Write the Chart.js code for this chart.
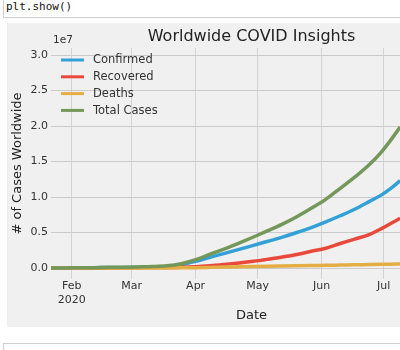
<!DOCTYPE html>
<html><head><meta charset="utf-8">
<script src="https://cdn.jsdelivr.net/npm/chart.js@4.4.1/dist/chart.umd.min.js"></script>
<style>
html,body{margin:0;padding:0;width:400px;height:350px;overflow:hidden;background:#fff;}
#wrap{position:relative;width:400px;height:350px;overflow:hidden;}
#cell1{position:absolute;left:3px;top:-10px;width:430px;height:26px;border:1px solid #cfcfcf;background:#fff;}
#code{position:absolute;left:6px;top:0px;font-family:"DejaVu Sans Mono",monospace;font-size:11px;color:#111;line-height:13px;white-space:pre;}
#fig{position:absolute;left:7px;top:23px;width:400px;height:304px;background:#f0f0f0;}
#cv{position:absolute;left:8px;top:23px;}
#cell2{position:absolute;left:3px;top:343px;width:430px;height:30px;border:1px solid #cfcfcf;}
</style></head>
<body><div id="wrap">
<div id="cell1"></div>
<div id="code">plt.show()</div>
<div id="fig"></div>
<canvas id="cv" width="444" height="304" style="width:444px;height:304px;"></canvas>
<div id="cell2"></div>
</div>
<script>
// ---- data (values in millions of cases) ----
const dates = ['2020-01-22','2020-01-29','2020-02-05','2020-02-12','2020-02-19','2020-02-26',
  '2020-03-04','2020-03-11','2020-03-18','2020-03-25','2020-04-01','2020-04-08','2020-04-15',
  '2020-04-22','2020-04-29','2020-05-06','2020-05-13','2020-05-20','2020-05-27','2020-06-03',
  '2020-06-10','2020-06-17','2020-06-24','2020-06-30','2020-07-04','2020-07-09'];
const confirmed = [0.0006,0.006,0.028,0.045,0.076,0.081,0.095,0.126,0.215,0.468,0.933,1.518,2.056,
  2.624,3.194,3.760,4.347,4.996,5.701,6.498,7.360,8.271,9.347,10.30,11.10,12.30];
const recovered = [0.00003,0.00013,0.0011,0.0047,0.016,0.030,0.051,0.067,0.083,0.114,0.193,0.331,0.511,
  0.710,0.944,1.23,1.54,1.90,2.35,2.79,3.45,4.07,4.70,5.55,6.20,7.00];
const deaths = [0.00002,0.00013,0.00056,0.0011,0.0021,0.0028,0.0033,0.0046,0.0087,0.0212,0.0472,0.0883,0.134,
  0.184,0.228,0.264,0.297,0.328,0.356,0.383,0.416,0.447,0.484,0.514,0.530,0.556];
const totalCases = [0.00065,0.0063,0.0297,0.0508,0.0941,0.1138,0.1493,0.1976,0.3067,0.6032,1.173,1.937,2.701,
  3.518,4.366,5.254,6.184,7.224,8.407,9.671,11.226,12.788,14.531,16.364,17.83,19.856];
const seriesNames = ['Confirmed','Recovered','Deaths','Total Cases'];
const seriesColors = ['#34a0d8','#e9493b','#e4ae45','#74975a'];
const xTickDates = ['2020-02-01','2020-03-01','2020-04-01','2020-05-01','2020-06-01','2020-07-01'];
const xTickLabels = [['Feb','2020'],'Mar','Apr','May','Jun','Jul'];
const yTicks = [0,5,10,15,20,25,30];
const yTickLabels = ['0.0','0.5','1.0','1.5','2.0','2.5','3.0'];
const yOffsetLabel = '1e7';
const titleText = 'Worldwide COVID Insights';
const xTitle = 'Date';
const yTitle = '# of Cases Worldwide';

const FONT = '"DejaVu Sans", sans-serif';
const day = s => { const [y,m,d] = s.split('-').map(Number); return (Date.UTC(y,m-1,d) - Date.UTC(2020,0,1)) / 864e5; };
const series = [confirmed, recovered, deaths, totalCases];
const datasets = series.map((vals, i) => ({
  label: seriesNames[i],
  data: dates.map((d, j) => ({x: day(d), y: vals[j]})),
  borderColor: seriesColors[i],
  backgroundColor: seriesColors[i],
  borderWidth: 3.5,
  pointRadius: 0,
  fill: false,
  cubicInterpolationMode: 'monotone',
  order: 3 - i
}));

const overlay = {
  id: 'overlay',
  afterDraw(chart) {
    const ctx = chart.ctx, ca = chart.chartArea;
    ctx.save();
    ctx.fillStyle = '#333';
    ctx.font = '10.5px ' + FONT;
    ctx.textAlign = 'left';
    ctx.textBaseline = 'alphabetic';
    ctx.fillText(yOffsetLabel, ca.left + 2, 20);
    chart.data.datasets.forEach((ds, i) => {
      const y = ca.top + 12 + i * 16.8;
      ctx.beginPath();
      ctx.strokeStyle = ds.borderColor;
      ctx.lineWidth = 3;
      ctx.moveTo(ca.left + 10, y);
      ctx.lineTo(ca.left + 33, y);
      ctx.stroke();
      ctx.fillStyle = '#333';
      ctx.font = '11.5px ' + FONT;
      ctx.textBaseline = 'middle';
      ctx.fillText(ds.label, ca.left + 42, y + 0.5);
    });
    ctx.restore();
  }
};

new Chart(document.getElementById('cv'), {
  type: 'line',
  data: { datasets },
  plugins: [overlay],
  options: {
    responsive: false,
    animation: false,
    events: [],
    layout: { padding: 0 },
    plugins: {
      legend: { display: false },
      tooltip: { enabled: false },
      title: {
        display: true, text: titleText, fullSize: false, color: '#222',
        font: { family: FONT, size: 16, weight: 'normal', lineHeight: 1.2 },
        padding: { top: 4, bottom: 1.8 }
      }
    },
    scales: {
      x: {
        type: 'linear', min: day('2020-01-22'), max: day('2020-01-22') + 194.1,
        afterBuildTicks: s => { s.ticks = xTickDates.map(d => ({value: day(d)})); },
        afterFit: s => { s.height = 48; },
        ticks: {
          autoSkip: false, maxRotation: 0, padding: 1, color: '#333',
          font: { family: FONT, size: 11, lineHeight: 1.2 },
          callback: (v, i) => xTickLabels[i]
        },
        grid: { color: '#d2d2d2', lineWidth: 1, drawTicks: false },
        border: { display: false },
        title: { display: true, text: xTitle, color: '#222',
          font: { family: FONT, size: 13, lineHeight: 1.2 }, padding: { top: 0, bottom: 3.2 } }
      },
      y: {
        min: -1.549, max: 30.986,
        afterBuildTicks: s => { s.ticks = yTicks.map(v => ({value: v})); },
        afterFit: s => { s.width = 43; },
        ticks: {
          padding: 3, color: '#333',
          font: { family: FONT, size: 11 },
          callback: (v, i) => yTickLabels[i]
        },
        grid: { color: '#cbcbcb', lineWidth: 1, drawTicks: false },
        border: { display: false },
        title: { display: true, text: yTitle, color: '#222',
          font: { family: FONT, size: 13, lineHeight: 1.2 }, padding: { top: 2.2, bottom: 0 } }
      }
    }
  }
});
</script>
</body></html>
